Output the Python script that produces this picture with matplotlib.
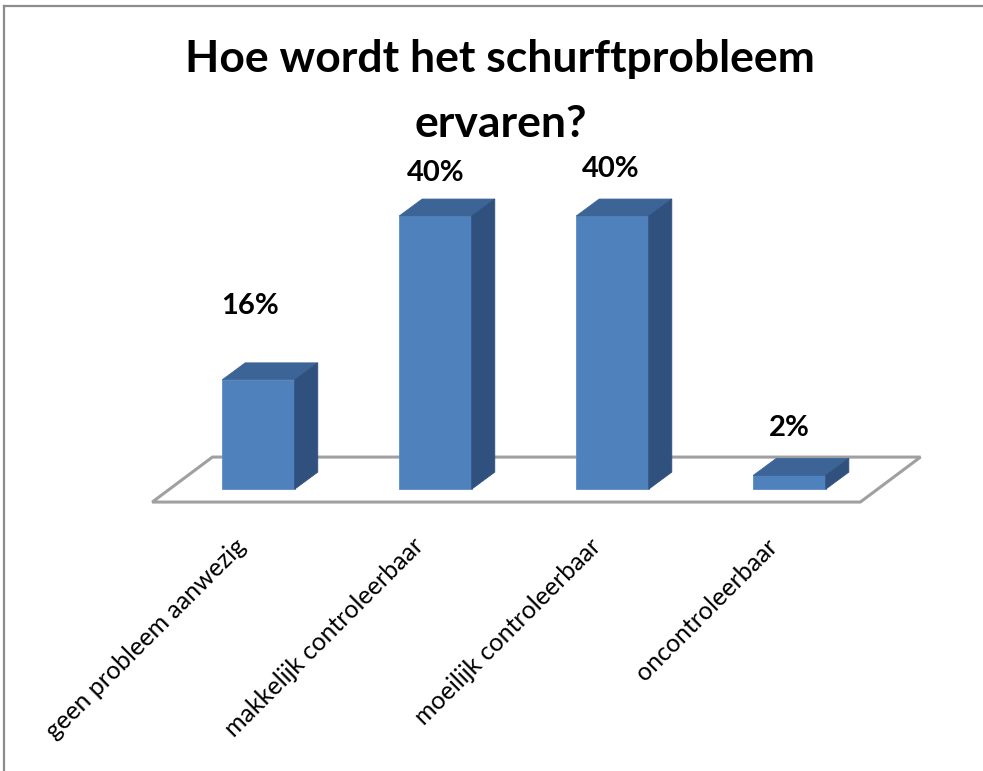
import matplotlib.pyplot as plt
from matplotlib.patches import Polygon
from matplotlib.lines import Line2D

# data
categories = ['geen probleem aanwezig', 'makkelijk controleerbaar',
              'moeilijk controleerbaar', 'oncontroleerbaar']
values = [16, 40, 40, 2]
labels = ['16%', '40%', '40%', '2%']

front_col = '#4F81BD'
top_col = '#3D6497'
side_col = '#30507E'
floor_col = '#A0A0A0'

plt.rcParams['font.family'] = ['Lato', 'DejaVu Sans']

fig = plt.figure(figsize=(9.83, 7.71), dpi=100)
ax = fig.add_axes([0, 0, 1, 1])
ax.axis('off')
ax.set_xlim(-1.460, 4.093)
ax.set_ylim(-41.3, 71.65)

# outer frame (only top and left visible)
fig.add_artist(Line2D([0.004, 1.0], [0.992, 0.992], color='#8C8C8C', lw=1.6,
                      transform=fig.transFigure))
fig.add_artist(Line2D([0.0045, 0.0045], [0.0, 0.992], color='#8C8C8C', lw=1.6,
                      transform=fig.transFigure))

# floor
n = len(categories)
fl_lo, fl_hi = -0.60, n - 1 + 0.40
fl_front, fl_back = -1.9, 4.69
fl_dx = 0.34
floor = Polygon([(fl_lo, fl_front), (fl_hi, fl_front),
                 (fl_hi + fl_dx, fl_back), (fl_lo + fl_dx, fl_back)],
                closed=True, facecolor='white', edgecolor=floor_col, lw=2.2,
                zorder=1)
ax.add_patch(floor)

# 3d bars
w = 0.205
ddx, ddy = 0.13, 2.49
for i, v in enumerate(values):
    x0, x1 = i - w, i + w
    front = Polygon([(x0, 0), (x1, 0), (x1, v), (x0, v)],
                    facecolor=front_col, edgecolor='#5B8CC6', lw=0.6, zorder=3)
    top = Polygon([(x0, v), (x1, v), (x1 + ddx, v + ddy), (x0 + ddx, v + ddy)],
                  facecolor=top_col, edgecolor=top_col, lw=0.6, zorder=3)
    side = Polygon([(x1, 0), (x1 + ddx, ddy), (x1 + ddx, v + ddy), (x1, v)],
                   facecolor=side_col, edgecolor=side_col, lw=0.6, zorder=3)
    for p in (front, top, side):
        ax.add_patch(p)

# value labels
nudges = [(-0.05, 10.8), (0, 6.3), (-0.01, 6.9), (0, 7.0)]
for i, v in enumerate(values):
    ax.text(i + nudges[i][0], v + nudges[i][1], labels[i], ha='center',
            va='center', fontsize=21, fontweight='bold', color='black',
            zorder=5)

# category labels
for i, c in enumerate(categories):
    ax.text(i - 0.135, -6.6, c, rotation=45, rotation_mode='anchor',
            ha='right', va='top', fontsize=18, color='black')

fig.text(0.509, 1 - 39 / 771, 'Hoe wordt het schurftprobleem\nervaren?',
         ha='center', va='top', fontsize=32, fontweight='bold',
         linespacing=1.75)

fig.savefig('out.png', dpi=100, facecolor='white')
